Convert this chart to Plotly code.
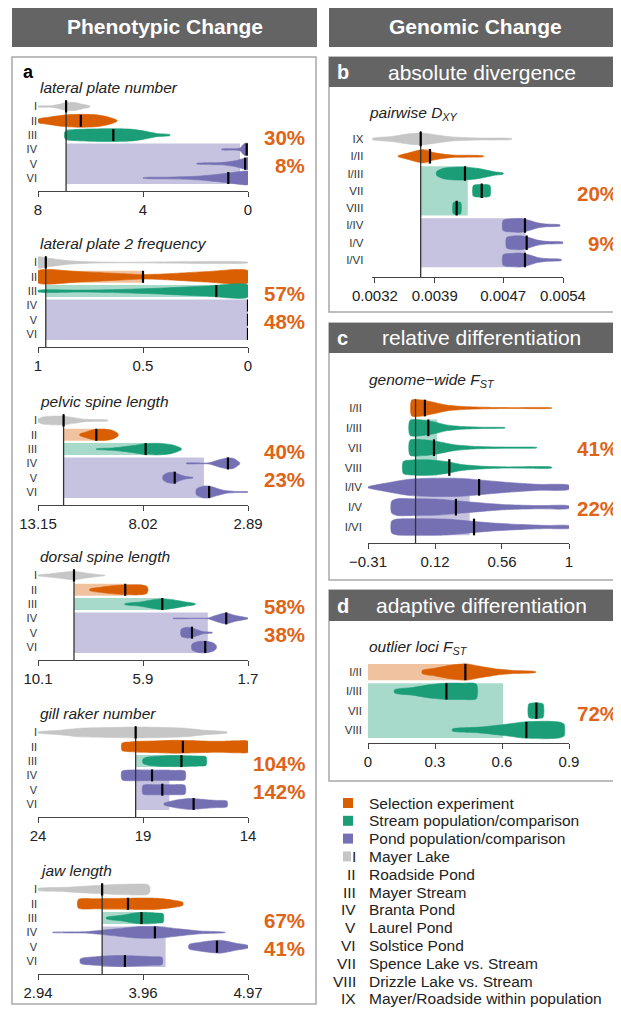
import plotly.graph_objects as go

W, H = 621, 1011
OFF = 8  # page body margin of the browser, compensated in pixel placement
FONT = "Liberation Sans, Arial, sans-serif"

# ---------------- DATA ----------------
# Panel a rows
a_rows = ["I", "II", "III", "IV", "V", "VI"]
a_groups = ["gray", "orange", "green", "purple", "purple", "purple"]

# lateral plate number
lpn_ticks = [8, 4, 0]
lpn_ticktext = ["8", "4", "0"]
lpn_ref = 6.93
lpn_medians = [6.93, 6.37, 5.13, 0.05, 0.11, 0.75]
lpn_x = [[7.99, 7.5, 7.2, 6.93, 6.6, 6.3, 6.02],
         [7.99, 7.6, 7.0, 6.4, 5.8, 5.4, 5.0],
         [6.97, 6.6, 6.0, 5.13, 4.5, 4.0, 3.5, 2.97],
         [1.0, 0.5, 0.3, 0.15, 0.0],
         [1.95, 1.0, 0.5, 0.2, 0.0],
         [3.99, 3.0, 2.0, 1.2, 0.6, 0.3, 0.0]]
lpn_w = [[0.03, 0.05, 0.15, 0.28, 0.28, 0.15, 0.03],
         [0.12, 0.25, 0.4, 0.45, 0.42, 0.3, 0.05],
         [0.25, 0.38, 0.43, 0.45, 0.42, 0.3, 0.12, 0.03],
         [0.03, 0.05, 0.1, 0.4, 0.42],
         [0.02, 0.08, 0.2, 0.35, 0.42],
         [0.02, 0.06, 0.12, 0.25, 0.38, 0.45, 0.45]]
lpn_pct = ["30%", "8%"]

# lateral plate 2 frequency
lp2_ticks = [1, 0.5, 0]
lp2_ticktext = ["1", "0.5", "0"]
lp2_ref = 0.963
lp2_medians = [0.963, 0.5, 0.151, 0.0, 0.0, 0.0]
lp2_x = [[1.0, 0.95, 0.85, 0.75, 0.6, 0.0],
         [1.0, 0.8, 0.6, 0.5, 0.4, 0.2, 0.0],
         [1.0, 0.8, 0.6, 0.4, 0.2, 0.0],
         [], [], []]
lp2_w = [[0.38, 0.3, 0.12, 0.05, 0.02, 0.02],
         [0.42, 0.36, 0.22, 0.16, 0.2, 0.36, 0.42],
         [0.05, 0.07, 0.12, 0.22, 0.35, 0.42],
         [], [], []]
lp2_pct = ["57%", "48%"]

# pelvic spine length
pel_ticks = [13.15, 8.02, 2.89]
pel_ticktext = ["13.15", "8.02", "2.89"]
pel_ref = 11.90
pel_medians = [11.90, 10.30, 7.89, 3.87, 6.47, 4.79]
pel_x = [[13.15, 12.9, 12.5, 11.9, 11.4, 10.8, 9.73],
         [11.11, 10.8, 10.5, 10.3, 9.9, 9.5, 9.24],
         [10.3, 9.5, 8.5, 7.9, 7.2, 6.6, 6.15],
         [5.9, 4.8, 4.3, 3.9, 3.6, 3.3],
         [7.04, 6.8, 6.5, 6.2, 5.9, 5.58],
         [5.41, 5.1, 4.8, 4.4, 4.0, 3.5, 2.9]]
pel_w = [[0.1, 0.25, 0.3, 0.3, 0.2, 0.08, 0.02],
         [0.05, 0.2, 0.33, 0.38, 0.4, 0.3, 0.08],
         [0.02, 0.08, 0.25, 0.38, 0.4, 0.3, 0.05],
         [0.02, 0.04, 0.25, 0.38, 0.35, 0.05],
         [0.15, 0.35, 0.38, 0.2, 0.08, 0.02],
         [0.2, 0.4, 0.42, 0.25, 0.1, 0.04, 0.02]]
pel_pct = ["40%", "23%"]

# dorsal spine length
dor_ticks = [10.1, 5.9, 1.7]
dor_ticktext = ["10.1", "5.9", "1.7"]
dor_ref = 8.66
dor_medians = [8.66, 6.61, 5.13, 2.57, 3.94, 3.41]
dor_x = [[10.1, 9.6, 9.1, 8.66, 8.2, 7.6, 7.43],
         [8.03, 7.6, 7.0, 6.5, 6.0, 5.75, 5.70],
         [6.63, 6.0, 5.5, 5.1, 4.7, 4.2, 3.81],
         [4.7, 3.3, 3.0, 2.6, 2.2, 1.7],
         [4.37, 4.1, 3.8, 3.5, 3.13],
         [3.94, 3.7, 3.4, 3.1, 2.97]]
dor_w = [[0.02, 0.12, 0.22, 0.3, 0.18, 0.05, 0.02],
         [0.05, 0.18, 0.3, 0.35, 0.35, 0.25, 0.05],
         [0.03, 0.15, 0.3, 0.38, 0.3, 0.15, 0.03],
         [0.01, 0.03, 0.2, 0.38, 0.2, 0.02],
         [0.25, 0.38, 0.25, 0.08, 0.02],
         [0.2, 0.38, 0.4, 0.3, 0.1]]
dor_pct = ["58%", "38%"]

# gill raker number
gil_ticks = [24, 19, 14]
gil_ticktext = ["24", "19", "14"]
gil_ref = 19.35
gil_medians = [19.35, 17.1, 17.17, 18.57, 18.08, 16.59]
gil_x = [[24, 23, 22, 20.5, 19.35, 18, 17, 16, 15],
         [20.0, 19.5, 18.5, 17.5, 16.5, 15.5, 14.5, 14.0],
         [19.0, 18.7, 17.8, 17.0, 16.3, 16.0],
         [20.0, 19.5, 18.5, 17.5, 17.0],
         [19.0, 18.5, 18.0, 17.5, 17.0],
         [18.0, 17.5, 16.8, 16.0, 15.5, 15.0]]
gil_w = [[0.03, 0.15, 0.3, 0.35, 0.38, 0.35, 0.3, 0.15, 0.03],
         [0.25, 0.35, 0.4, 0.45, 0.42, 0.38, 0.42, 0.38],
         [0.15, 0.3, 0.38, 0.38, 0.35, 0.3],
         [0.3, 0.38, 0.35, 0.35, 0.3],
         [0.3, 0.35, 0.35, 0.35, 0.3],
         [0.05, 0.25, 0.38, 0.3, 0.25, 0.2]]
gil_pct = ["104%", "142%"]

# jaw length
jaw_ticks = [2.94, 3.955, 4.97]
jaw_ticktext = ["2.94", "3.96", "4.97"]
jaw_ref = 3.56
jaw_medians = [3.56, 3.81, 3.94, 4.07, 4.67, 3.78]
jaw_x = [[2.94, 3.2, 3.5, 3.7, 3.9, 4.0, 4.02],
         [3.33, 3.5, 3.7, 3.9, 4.1, 4.25, 4.34],
         [3.60, 3.75, 3.9, 4.0, 4.1, 4.15],
         [3.08, 3.4, 3.7, 3.9, 4.1, 4.3, 4.5, 4.75],
         [4.40, 4.5, 4.7, 4.85, 4.97],
         [3.35, 3.5, 3.7, 3.9, 4.05, 4.14]]
jaw_w = [[0.06, 0.15, 0.28, 0.35, 0.38, 0.35, 0.2],
         [0.3, 0.35, 0.35, 0.4, 0.38, 0.25, 0.1],
         [0.05, 0.2, 0.38, 0.4, 0.35, 0.3],
         [0.01, 0.05, 0.25, 0.4, 0.4, 0.25, 0.1, 0.01],
         [0.15, 0.3, 0.45, 0.25, 0.08],
         [0.15, 0.3, 0.38, 0.35, 0.3, 0.25]]
jaw_pct = ["67%", "41%"]

# b: pairwise DXY
dxy_rows = ["IX", "I/II", "I/III", "VII", "VIII", "I/IV", "I/V", "I/VI"]
dxy_groups = ["gray", "orange", "green", "green", "green", "purple", "purple", "purple"]
dxy_ticks = [0.0032, 0.0039, 0.0047, 0.0054]
dxy_ticktext = ["0.0032", "0.0039", "0.0047", "0.0054"]
dxy_ref = 0.003735
dxy_medians = [0.003735, 0.003844, 0.004253, 0.004449, 0.004156, 0.004955, 0.004975, 0.004955]
dxy_x = [[0.00316, 0.0034, 0.0036, 0.00375, 0.0039, 0.0041, 0.0044, 0.0048],
         [0.00347, 0.0036, 0.00375, 0.0039, 0.0041, 0.00447],
         [0.00392, 0.0040, 0.0042, 0.0044, 0.0046, 0.0047],
         [0.00435, 0.0044, 0.0045, 0.004546],
         [0.004117, 0.00416, 0.004203],
         [0.0047, 0.0048, 0.0049, 0.0050, 0.0051, 0.0052, 0.005365],
         [0.00474, 0.0048, 0.0049, 0.0050, 0.0051, 0.0052, 0.0054],
         [0.0047, 0.0048, 0.0049, 0.0050, 0.0051, 0.0052, 0.00538]]
dxy_w = [[0.03, 0.15, 0.3, 0.34, 0.25, 0.12, 0.06, 0.02],
         [0.02, 0.2, 0.37, 0.2, 0.07, 0.02],
         [0.1, 0.3, 0.38, 0.3, 0.1, 0.03],
         [0.3, 0.36, 0.36, 0.3],
         [0.33, 0.36, 0.33],
         [0.3, 0.38, 0.4, 0.3, 0.15, 0.08, 0.03],
         [0.3, 0.38, 0.4, 0.3, 0.15, 0.08, 0.03],
         [0.3, 0.38, 0.4, 0.3, 0.15, 0.08, 0.03]]
dxy_pct = ["20%", "9%"]

# c: genome-wide FST
fst_rows = ["I/II", "I/III", "VII", "VIII", "I/IV", "I/V", "I/VI"]
fst_groups = ["orange", "green", "green", "green", "purple", "purple", "purple"]
fst_ticks = [-0.31, 0.1267, 0.5633, 1.0]
fst_ticktext = ["\u22120.31", "0.12", "0.56", "1"]
fst_ref = 0.0
fst_medians = [0.061, 0.083, 0.12, 0.22, 0.414, 0.263, 0.381]
fst_x = [[-0.025, 0.04, 0.1, 0.2, 0.3, 0.45, 0.6, 0.887],
         [-0.036, 0.05, 0.12, 0.2, 0.3, 0.45, 0.583],
         [-0.036, 0.05, 0.15, 0.25, 0.4, 0.6, 0.79],
         [-0.08, -0.02, 0.1, 0.2, 0.3, 0.45, 0.6, 0.887],
         [-0.31, -0.2, -0.05, 0.1, 0.3, 0.45, 0.6, 0.8, 1.0],
         [-0.156, -0.12, 0.0, 0.15, 0.3, 0.45, 0.6, 0.8, 1.0],
         [-0.156, -0.12, 0.0, 0.2, 0.35, 0.5, 0.7, 0.85, 1.0]]
fst_w = [[0.4, 0.4, 0.32, 0.15, 0.08, 0.04, 0.02, 0.01],
         [0.38, 0.38, 0.3, 0.15, 0.07, 0.03, 0.01],
         [0.38, 0.4, 0.3, 0.15, 0.06, 0.03, 0.01],
         [0.3, 0.38, 0.38, 0.3, 0.15, 0.06, 0.03, 0.02],
         [0.02, 0.2, 0.4, 0.46, 0.45, 0.35, 0.25, 0.15, 0.1],
         [0.3, 0.42, 0.42, 0.4, 0.3, 0.2, 0.12, 0.08, 0.06],
         [0.3, 0.4, 0.42, 0.4, 0.3, 0.2, 0.12, 0.08, 0.06]]
fst_pct = ["41%", "22%"]

# d: outlier loci FST
out_rows = ["I/II", "I/III", "VII", "VIII"]
out_groups = ["orange", "green", "green", "green"]
out_ticks = [0, 0.3, 0.6, 0.9]
out_ticktext = ["0", "0.3", "0.6", "0.9"]
out_ref = 0.0
out_medians = [0.436, 0.351, 0.754, 0.709]
out_x = [[0.243, 0.3, 0.37, 0.44, 0.5, 0.58, 0.65, 0.75],
         [0.119, 0.2, 0.28, 0.35, 0.42, 0.485],
         [0.72, 0.74, 0.765, 0.784],
         [0.378, 0.5, 0.62, 0.7, 0.8, 0.86, 0.878]]
out_w = [[0.08, 0.2, 0.35, 0.42, 0.3, 0.15, 0.08, 0.02],
         [0.08, 0.2, 0.35, 0.42, 0.42, 0.38],
         [0.35, 0.4, 0.4, 0.35],
         [0.05, 0.15, 0.3, 0.42, 0.45, 0.4, 0.3]]
out_pct = ["72%"]

legend_keys = ["", "", "", "I", "II", "III", "IV", "V", "VI", "VII", "VIII", "IX"]
legend_labels = ["Selection experiment", "Stream population/comparison", "Pond population/comparison",
                 "Mayer Lake", "Roadside Pond", "Mayer Stream", "Branta Pond", "Laurel Pond",
                 "Solstice Pond", "Spence Lake vs. Stream", "Drizzle Lake vs. Stream",
                 "Mayer/Roadside within population"]
legend_swatches = ["orange", "green", "purple", "gray"]

# ---------------- STYLE ----------------
COL = {"gray": "#c6c6c6", "orange": "#d95f02", "green": "#1b9e77", "purple": "#7570b3"}
BANDCOL = {"orange": "rgba(217,95,2,0.38)", "green": "rgba(27,158,119,0.38)",
           "purple": "rgba(117,112,179,0.42)"}
PCT_COLOR = "#de6418"


def fx(p):
    return (p - OFF) / W


def fy(p):
    return 1 - (p - OFF) / H


panels = [
    dict(title="<i>lateral plate number</i>", rows=a_rows, groups=a_groups, x=lpn_x, w=lpn_w,
         med=lpn_medians, ref=lpn_ref, ticks=lpn_ticks, tt=lpn_ticktext, rng=[8, 0], pct=lpn_pct),
    dict(title="<i>lateral plate 2 frequency</i>", rows=a_rows, groups=a_groups, x=lp2_x, w=lp2_w,
         med=lp2_medians, ref=lp2_ref, ticks=lp2_ticks, tt=lp2_ticktext, rng=[1, 0], pct=lp2_pct),
    dict(title="<i>pelvic spine length</i>", rows=a_rows, groups=a_groups, x=pel_x, w=pel_w,
         med=pel_medians, ref=pel_ref, ticks=pel_ticks, tt=pel_ticktext, rng=[13.15, 2.89], pct=pel_pct),
    dict(title="<i>dorsal spine length</i>", rows=a_rows, groups=a_groups, x=dor_x, w=dor_w,
         med=dor_medians, ref=dor_ref, ticks=dor_ticks, tt=dor_ticktext, rng=[10.1, 1.7], pct=dor_pct),
    dict(title="<i>gill raker number</i>", rows=a_rows, groups=a_groups, x=gil_x, w=gil_w,
         med=gil_medians, ref=gil_ref, ticks=gil_ticks, tt=gil_ticktext, rng=[24, 14], pct=gil_pct),
    dict(title="<i>jaw length</i>", rows=a_rows, groups=a_groups, x=jaw_x, w=jaw_w,
         med=jaw_medians, ref=jaw_ref, ticks=jaw_ticks, tt=jaw_ticktext, rng=[2.94, 4.97], pct=jaw_pct),
]
A_BOTTOMS = [191, 347, 505, 660, 817, 974]
for p, b in zip(panels, A_BOTTOMS):
    p.update(xd=(38, 248), bottom=b, top=b - 96, rowpx=14.3, lastgap=13, labsize=11,
             title_xy=(38, b - 104), pct_xy=[(307, b - 53.5, "right"), (307, b - 25.5, "right")],
             standoff=None, show_ref=True)

panels.append(dict(title="<i>pairwise D<sub>XY</sub></i>", rows=dxy_rows, groups=dxy_groups, x=dxy_x,
                   w=dxy_w, med=dxy_medians, ref=dxy_ref, ticks=dxy_ticks, tt=dxy_ticktext,
                   rng=[0.00317, 0.0054], pct=dxy_pct, xd=(372.4, 563), bottom=277, top=126,
                   rowpx=17.29, lastgap=17, labsize=11.5, title_xy=(367, 113),
                   pct_xy=[(620, 193, "right"), (620, 243, "right")], standoff=8, show_ref=True))
panels.append(dict(title="<i>genome\u2212wide F<sub>ST</sub></i>", rows=fst_rows, groups=fst_groups, x=fst_x,
                   w=fst_w, med=fst_medians, ref=fst_ref, ticks=fst_ticks, tt=fst_ticktext,
                   rng=[-0.31, 1.0], pct=fst_pct, xd=(368, 569), bottom=543, top=393,
                   rowpx=19.83, lastgap=16, labsize=11.5, title_xy=(367, 380),
                   pct_xy=[(620, 448, "right"), (620, 508, "right")], standoff=5, show_ref=True))
panels.append(dict(title="<i>outlier loci F<sub>ST</sub></i>", rows=out_rows, groups=out_groups, x=out_x,
                   w=out_w, med=out_medians, ref=out_ref, ticks=out_ticks, tt=out_ticktext,
                   rng=[0, 0.9], pct=out_pct, xd=(368, 569), bottom=743, top=657,
                   rowpx=19.33, lastgap=13, labsize=11.5, title_xy=(367, 647),
                   pct_xy=[(620, 713, "right")], standoff=5, show_ref=False))

fig = go.Figure()
layout = dict(width=W, height=H, autosize=False, margin=dict(l=0, r=0, t=0, b=0, pad=0, autoexpand=False),
              paper_bgcolor="white", plot_bgcolor="white", showlegend=False,
              font=dict(family=FONT, color="#222"), template="none")
annotations = []
shapes = []

BH = 0.42  # band half height (rows)

for i, p in enumerate(panels, start=1):
    xr = "x" if i == 1 else f"x{i}"
    yr = "y" if i == 1 else f"y{i}"
    n = len(p["rows"])
    ybot = (n - 1) + p["lastgap"] / p["rowpx"]
    ytop = ybot - (p["bottom"] - p["top"]) / p["rowpx"]
    xa = dict(domain=[fx(p["xd"][0]), fx(p["xd"][1])], range=p["rng"], tickvals=p["ticks"],
              ticktext=p["tt"], showline=True, linecolor="#444", linewidth=1, ticks="outside",
              ticklen=5, tickcolor="#444", tickwidth=1, tickfont=dict(size=15, color="#222", family=FONT),
              showgrid=False, zeroline=False, anchor=yr, fixedrange=True, automargin=False)
    ya = dict(domain=[fy(p["bottom"]), fy(p["top"])], range=[ybot, ytop], tickvals=list(range(n)),
              ticktext=p["rows"], showline=False, ticks="", showgrid=False, zeroline=False,
              tickfont=dict(size=p["labsize"], color="#333", family=FONT), anchor=xr, fixedrange=True,
              automargin=False)
    if p["standoff"] is not None:
        ya["ticklabelstandoff"] = p["standoff"]
    layout["xaxis" if i == 1 else f"xaxis{i}"] = xa
    layout["yaxis" if i == 1 else f"yaxis{i}"] = ya

    # bands: from reference to mean of medians of each group
    for g in ["orange", "green", "purple"]:
        idx = [k for k, gg in enumerate(p["groups"]) if gg == g]
        if not idx:
            continue
        m = sum(p["med"][k] for k in idx) / len(idx)
        r0, r1 = min(idx) - BH, max(idx) + BH
        fig.add_trace(go.Scatter(x=[p["ref"], m, m, p["ref"], p["ref"]], y=[r0, r0, r1, r1, r0],
                                 fill="toself", fillcolor=BANDCOL[g], mode="lines",
                                 line=dict(width=0), hoverinfo="skip", xaxis=xr, yaxis=yr))
    # violins
    for k in range(n):
        xs, ws = p["x"][k], p["w"][k]
        if not xs:
            continue
        px_ = list(xs) + list(reversed(xs)) + [xs[0]]
        py_ = [k - w for w in ws] + [k + w for w in reversed(ws)] + [k - ws[0]]
        c = COL[p["groups"][k]]
        fig.add_trace(go.Scatter(x=px_, y=py_, fill="toself", fillcolor=c, mode="lines",
                                 line=dict(width=0.6, color=c, shape="spline", smoothing=0.7),
                                 hoverinfo="skip", xaxis=xr, yaxis=yr))
    # reference line
    if p["show_ref"]:
        fig.add_trace(go.Scatter(x=[p["ref"], p["ref"]], y=[-0.45, ybot], mode="lines",
                                 line=dict(color="#333", width=1.3), hoverinfo="skip", xaxis=xr, yaxis=yr))
    # medians
    mx, my = [], []
    for k, m in enumerate(p["med"]):
        mx += [m, m, None]
        my += [k - 0.42, k + 0.42, None]
    fig.add_trace(go.Scatter(x=mx, y=my, mode="lines", line=dict(color="black", width=2.2),
                             hoverinfo="skip", xaxis=xr, yaxis=yr))
    # title
    annotations.append(dict(text=p["title"], x=fx(p["title_xy"][0]), y=fy(p["title_xy"][1]),
                            xref="paper", yref="paper", xanchor="left", yanchor="middle",
                            showarrow=False, font=dict(size=15.5, color="#222", family=FONT)))
    for txt, (tx, ty, anc) in zip(p["pct"], p["pct_xy"]):
        annotations.append(dict(text=f"<b>{txt}</b>", x=fx(tx), y=fy(ty), xref="paper", yref="paper",
                                xanchor=anc, yanchor="middle", showarrow=False,
                                font=dict(size=20.5, color=PCT_COLOR, family=FONT)))

# ---------------- frames & headers ----------------
HDR = "#646464"
shapes.append(dict(type="rect", xref="paper", yref="paper", x0=fx(12), x1=fx(317), y0=fy(47), y1=fy(6),
                   fillcolor=HDR, line=dict(width=0), layer="below"))
shapes.append(dict(type="rect", xref="paper", yref="paper", x0=fx(329), x1=fx(640), y0=fy(47), y1=fy(6),
                   fillcolor=HDR, line=dict(width=0), layer="below"))
annotations.append(dict(text="<b>Phenotypic Change</b>", x=fx(165), y=fy(27), xref="paper", yref="paper",
                        xanchor="center", yanchor="middle",
                        showarrow=False, font=dict(size=21, color="white", family=FONT)))
annotations.append(dict(text="<b>Genomic Change</b>", x=fx(475), y=fy(27), xref="paper", yref="paper",
                        xanchor="center", yanchor="middle",
                        showarrow=False, font=dict(size=21, color="white", family=FONT)))
# panel a frame
shapes.append(dict(type="rect", xref="paper", yref="paper", x0=fx(12), x1=fx(316), y0=fy(1004), y1=fy(57),
                   fillcolor="rgba(0,0,0,0)", line=dict(width=1.5, color="#a8a8a8"), layer="below"))
annotations.append(dict(text="<b>a</b>", x=fx(21), y=fy(72), xref="paper", yref="paper", xanchor="left",
                        yanchor="middle", showarrow=False, font=dict(size=18, color="black", family=FONT)))
# panels b, c, d frames + headers
for letter, title, top, hbot, bot in [("b", "absolute divergence", 57, 87, 312),
                                       ("c", "relative differentiation", 323, 353, 580),
                                       ("d", "adaptive differentiation", 590, 621, 781)]:
    shapes.append(dict(type="rect", xref="paper", yref="paper", x0=fx(329), x1=fx(640), y0=fy(bot), y1=fy(top),
                       fillcolor="rgba(0,0,0,0)", line=dict(width=1.5, color="#a8a8a8"), layer="below"))
    shapes.append(dict(type="rect", xref="paper", yref="paper", x0=fx(329), x1=fx(640), y0=fy(hbot), y1=fy(top),
                       fillcolor=HDR, line=dict(width=0), layer="below"))
    yc = (top + hbot) / 2
    annotations.append(dict(text=f"<b>{letter}</b>", x=fx(335), y=fy(yc), xref="paper", yref="paper",
                            xanchor="left", yanchor="middle", showarrow=False,
                            font=dict(size=20, color="white", family=FONT)))
    annotations.append(dict(text=title, x=fx(482), y=fy(yc), xref="paper", yref="paper",
                            xanchor="center", yanchor="middle", showarrow=False,
                            font=dict(size=21, color="white", family=FONT)))

# ---------------- legend ----------------
LEG_Y0, LEG_STEP = 803, 17.8
for j, (key, lab) in enumerate(zip(legend_keys, legend_labels)):
    yc = LEG_Y0 + j * LEG_STEP
    if j < len(legend_swatches):
        x1 = 353 if j < 3 else 351
        shapes.append(dict(type="rect", xref="paper", yref="paper", x0=fx(343), x1=fx(x1),
                           y0=fy(yc + 5), y1=fy(yc - 5), fillcolor=COL[legend_swatches[j]],
                           line=dict(width=0)))
    if key:
        annotations.append(dict(text=key, x=fx(358.5), y=fy(yc), xref="paper", yref="paper",
                                xanchor="right", yanchor="middle", showarrow=False,
                                font=dict(size=15.5, color="#222", family=FONT)))
    annotations.append(dict(text=lab, x=fx(367), y=fy(yc), xref="paper", yref="paper",
                            xanchor="left", yanchor="middle", showarrow=False,
                            font=dict(size=15.5, color="#222", family=FONT)))

layout["annotations"] = annotations
layout["shapes"] = shapes
fig.update_layout(**layout)
fig.write_html("out.html")
